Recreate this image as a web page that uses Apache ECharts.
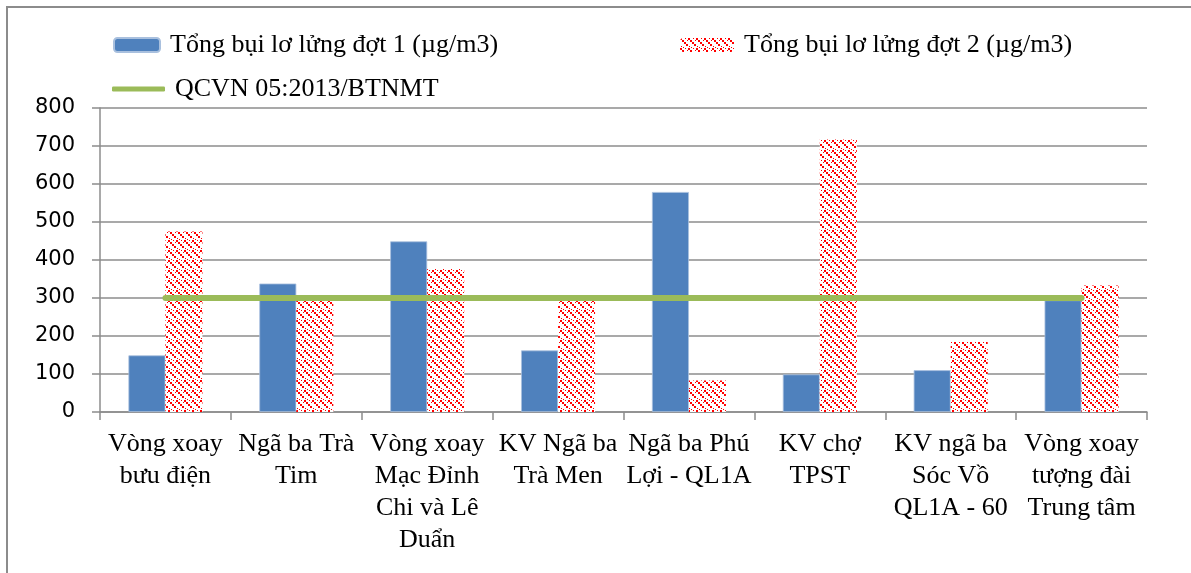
<!DOCTYPE html>
<html>
<head>
<meta charset="utf-8">
<script src="https://cdn.jsdelivr.net/npm/echarts@6/dist/echarts.min.js"></script>
<style>
  html, body { margin: 0; padding: 0; background: #fff; }
  #chart { width: 1191px; height: 573px; }
</style>
</head>
<body>
<div id="chart"></div>
<script>
// Monitoring sites (axis labels, broken over lines as printed)
const categories = [
  'Vòng xoay\nbưu điện',
  'Ngã ba Trà\nTim',
  'Vòng xoay\nMạc Đỉnh\nChi và Lê\nDuẩn',
  'KV Ngã ba\nTrà Men',
  'Ngã ba Phú\nLợi - QL1A',
  'KV chợ\nTPST',
  'KV ngã ba\nSóc Vồ\nQL1A - 60',
  'Vòng xoay\ntượng đài\nTrung tâm'
];
// Total suspended dust, round 1 and round 2 (µg/m3)
const round1 = [149, 338, 449, 162, 579, 99, 110, 294];
const round2 = [475, 297, 376, 298, 83, 717, 184, 333];
// National standard limit QCVN 05:2013/BTNMT
const limit = [300, 300, 300, 300, 300, 300, 300, 300];
const yTicks = { min: 0, max: 800, interval: 100 };

const names = [
  'Tổng bụi lơ lửng đợt 1 (µg/m3)',
  'Tổng bụi lơ lửng đợt 2 (µg/m3)',
  'QCVN 05:2013/BTNMT'
];

// Red dashed downward-diagonal hatch used for round 2
function hatch() {
  const c = document.createElement('canvas');
  c.width = 8; c.height = 10;
  const g = c.getContext('2d');
  g.fillStyle = '#ffffff';
  g.fillRect(0, 0, 8, 10);
  g.fillStyle = '#ff0000';
  [[0, 0], [2, 2], [4, 4], [6, 6]].forEach(p => g.fillRect(p[0], p[1], 2, 2));
  [[5, 0], [7, 2], [1, 8], [3, 9]].forEach(p => g.fillRect(p[0], p[1], 1, 1));
  return c;
}
const hatchFill = { image: hatch(), repeat: 'repeat' };

const serif = 'Liberation Serif, Times New Roman, serif';
const chart = echarts.init(document.getElementById('chart'), null, { renderer: 'canvas' });

const legendText = { fontFamily: serif, fontSize: 26, color: '#000', padding: [0, 0, 0, 5] };

chart.setOption({
  animation: false,
  backgroundColor: '#fff',
  graphic: [{
    type: 'rect',
    shape: { x: 7, y: 7, width: 1250, height: 650 },
    style: { fill: 'none', stroke: '#8c8c8c', lineWidth: 2 },
    silent: true
  }],
  legend: [
    {
      data: [names[0]], left: 113, top: 32, padding: 0,
      itemWidth: 46, itemHeight: 14, itemGap: 0,
      textStyle: legendText
    },
    {
      data: [names[1]], left: 680, top: 32, padding: 0,
      itemWidth: 54, itemHeight: 14, itemGap: 0,
      textStyle: legendText
    },
    {
      data: [{ name: names[2], icon: 'roundRect' }], left: 112, top: 76, padding: 0,
      itemWidth: 53, itemHeight: 5, itemGap: 0,
      textStyle: legendText
    }
  ],
  grid: { left: 100, right: 44, top: 108, bottom: 161, containLabel: false },
  xAxis: {
    type: 'category',
    data: categories,
    boundaryGap: true,
    axisLine: { show: true, lineStyle: { color: '#8c8c8c', width: 1.5 } },
    axisTick: { show: true, alignWithLabel: false, length: 8, lineStyle: { color: '#8c8c8c', width: 1.5 } },
    axisLabel: {
      interval: 0, margin: 16,
      fontFamily: serif, fontSize: 26, lineHeight: 32, color: '#000', align: 'center'
    }
  },
  yAxis: {
    type: 'value',
    min: yTicks.min, max: yTicks.max, interval: yTicks.interval,
    axisLine: { show: true, lineStyle: { color: '#8c8c8c', width: 1.5 } },
    axisTick: { show: true, length: 8, lineStyle: { color: '#8c8c8c', width: 1.5 } },
    splitLine: { show: true, lineStyle: { color: '#8c8c8c', width: 1.5 } },
    axisLabel: { margin: 25, fontFamily: 'DejaVu Sans, sans-serif', fontSize: 21, color: '#000' }
  },
  series: [
    {
      name: names[0], type: 'bar', data: round1,
      barWidth: 37, barGap: '0%',
      itemStyle: { color: '#4f81bd', borderColor: '#a9c0de', borderWidth: 0.8 },
      z: 2
    },
    {
      name: names[1], type: 'bar', data: round2,
      barWidth: 37, barGap: '0%',
      itemStyle: { color: hatchFill },
      z: 2
    },
    {
      name: names[2], type: 'line', data: limit,
      symbol: 'none',
      lineStyle: { color: '#9bbb59', width: 6, cap: 'round' },
      itemStyle: { color: '#9bbb59' },
      z: 5
    }
  ]
});
</script>
</body>
</html>
